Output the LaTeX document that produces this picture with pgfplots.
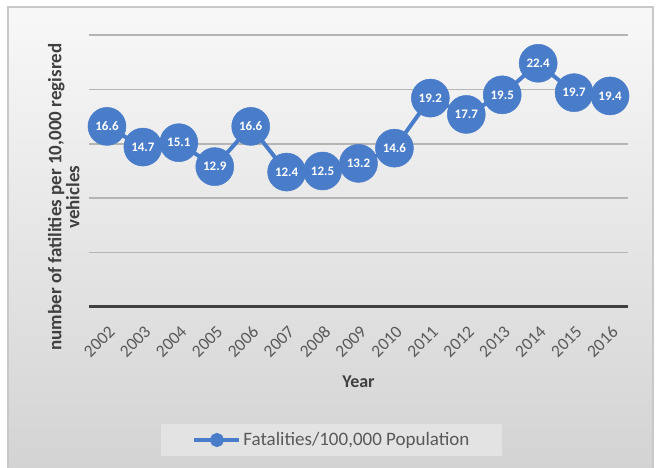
\documentclass[border=0pt]{standalone}
\usepackage{fontspec}
\setmainfont{Carlito}
\usepackage{pgfplots}
\pgfplotsset{compat=1.18}
\definecolor{ser}{HTML}{4A7DC9}
\definecolor{gridc}{HTML}{B5B5B5}
\definecolor{axl}{HTML}{404040}
\definecolor{tickc}{HTML}{595959}
\definecolor{legfill}{HTML}{E3E3E3}
\definecolor{bgtop}{HTML}{F8F8F8}
\definecolor{bgbot}{HTML}{D3D3D3}
\definecolor{frame}{HTML}{C8C8C8}
\begin{document}
\begin{tikzpicture}
\useasboundingbox (0pt,0pt) rectangle (657pt,468pt);
\fill[white] (0pt,0pt) rectangle (657pt,468pt);
\shade[top color=bgtop, bottom color=bgbot] (8pt,-4pt) rectangle (653pt,461pt);
\draw[frame, line width=1.5pt] (8pt,-4pt) rectangle (653pt,461pt);
\begin{axis}[
  at={(89pt,161pt)}, anchor=south west,
  scale only axis, width=539pt, height=272pt,
  xmin=-0.5, xmax=14.5, ymin=0, ymax=25,
  clip=false,
  xtick={0,...,14},
  xticklabels={2002,2003,2004,2005,2006,2007,2008,2009,2010,2011,2012,2013,2014,2015,2016},
  ytick={0,5,...,25}, yticklabels={},
  ymajorgrids,
  major grid style={gridc, line width=1.5pt},
  major tick length=0pt,
  axis x line*=bottom, axis y line*=left,
  x axis line style={axl, line width=3pt, -},
  y axis line style={draw=none},
  xticklabel style={font=\fontsize{17.5}{20}\selectfont, text=tickc, xshift=5pt, yshift=-22pt, rotate=45, anchor=east, inner sep=0pt},
  xlabel={Year},
  xlabel style={at={(axis description cs:0.5,-0.2757)}, anchor=center, font=\bfseries\fontsize{18}{20}\selectfont, text=axl},
  ylabel={number of fatilities per 10,000 regisred\\vehicles},
  ylabel style={at={(axis description cs:-0.047,0.404)}, anchor=center, align=center, rotate=0, font=\bfseries\fontsize{19}{18}\selectfont, text=axl},
  legend style={at={(axis description cs:0.4508,-0.489)}, anchor=center, fill=legfill, draw=none,
    font=\fontsize{19}{22}\selectfont, text=tickc, inner xsep=31pt, inner ysep=7pt},
  legend image code/.code={\draw[ser, line width=4pt] (0pt,0pt) -- (45pt,0pt); \fill[ser] (22.5pt,0pt) circle (5pt);},
]
\addplot[ser, line width=4pt, mark=*, mark size=19pt, mark options={fill=ser, draw=ser, line width=0.5pt},
  point meta=y,
  nodes near coords={\pgfmathprintnumber[fixed,fixed zerofill,precision=1,assume math mode=true]{\pgfplotspointmeta}},
  every node near coord/.append style={anchor=center, text=white, font=\bfseries\fontsize{13}{14}\selectfont}]
coordinates {
(0,16.6) (1,14.7) (2,15.1) (3,12.9) (4,16.6) (5,12.4) (6,12.5) (7,13.2)
(8,14.6) (9,19.2) (10,17.7) (11,19.5) (12,22.4) (13,19.7) (14,19.4)
};
\addlegendentry{Fatalities/100,000 Population}
\end{axis}
\end{tikzpicture}
\end{document}
